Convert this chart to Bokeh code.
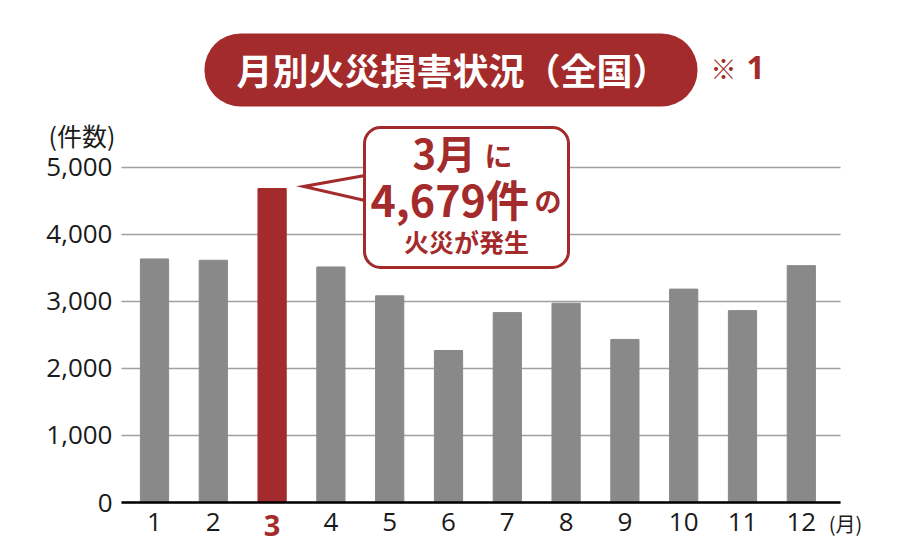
from bokeh.plotting import figure
from bokeh.models import (Range1d, FixedTicker, NumeralTickFormatter, Label,
                          BoxAnnotation, ColumnDataSource, LinearAxis)
from bokeh.embed import file_html
from bokeh.resources import INLINE

# ---------------- data ----------------
months = list(range(1, 13))
month_labels = [str(m) for m in months]
fires = [3630, 3610, 4679, 3510, 3080, 2265, 2830, 2970, 2430, 3180, 2860, 3530]
highlight_month = 3
y_ticks = [0, 1000, 2000, 3000, 4000, 5000]

title_text = "月別火災損害状況（全国）"
note_mark = "※"
note_num = "1"
y_unit_text = "(件数)"
x_unit_text = "(月)"
callout_big1 = "3月"
callout_small1 = "に"
callout_big2 = "4,679件"
callout_small2 = "の"
callout_line3 = "火災が発生"

RED = "#a32b2b"
GRAY = "#898989"
TXT = "#1a1a1a"
JP = "Noto Sans CJK JP"
LAT = "Open Sans"

# ---------------- layout (px, page coordinates) ----------------
W, H = 900, 548
PLOT_L, PLOT_R = 121, 840      # extent of grid lines / axis line
ZERO_Y = 502                   # pixel row of value 0
CAT_PX = 58.8                  # pixels per month
FIRST_CENTER = 154             # pixel column of month 1
PX_PER_VAL = 67.1 / 1000.0     # pixels per fire

x0 = 1 - FIRST_CENTER / CAT_PX
x1 = x0 + W / CAT_PX
y0 = -(H - ZERO_Y) / PX_PER_VAL
y1 = ZERO_Y / PX_PER_VAL


def X(px):
    return x0 + px / CAT_PX


def Y(py):
    return (ZERO_Y - py) / PX_PER_VAL


src = ColumnDataSource(dict(
    month=months,
    fires=fires,
    color=[RED if m == highlight_month else GRAY for m in months],
))

p = figure(width=W, height=H, x_range=Range1d(x0, x1), y_range=Range1d(y0, y1),
           output_backend="svg", toolbar_location=None, min_border=0)
p.outline_line_color = None
p.background_fill_color = "white"
p.border_fill_color = "white"

p.vbar(x="month", top="fires", bottom=0, width=0.48, color="color", source=src)

# grid
p.xgrid.visible = False
g = p.ygrid[0]
g.ticker = FixedTicker(ticks=y_ticks)
g.grid_line_color = "#a0a0a0"
g.grid_line_width = 1.4
g.cross_bounds = (X(PLOT_L), X(PLOT_R))

# y axis
ya = p.yaxis[0]
ya.fixed_location = X(PLOT_L)
ya.ticker = FixedTicker(ticks=y_ticks)
ya.formatter = NumeralTickFormatter(format="0,0")
ya.axis_line_color = None
ya.major_tick_line_color = None
ya.minor_tick_line_color = None
ya.major_label_text_font = LAT
ya.major_label_text_font_size = "26px"
ya.major_label_text_color = TXT
ya.major_label_standoff = 3

# x axis
xa = p.xaxis[0]
xa.fixed_location = 0
xa.ticker = FixedTicker(ticks=months)
xa.bounds = (X(PLOT_L), X(PLOT_R))
xa.major_label_overrides = {m: ("" if m == highlight_month else lab)
                            for m, lab in zip(months, month_labels)}
xa.axis_line_color = "black"
xa.axis_line_width = 2.5
xa.major_tick_line_color = None
xa.minor_tick_line_color = None
xa.major_label_text_font = LAT
xa.major_label_text_font_size = "26px"
xa.major_label_text_color = TXT
xa.major_label_standoff = 4

# highlighted month label (own axis, drawn at y=0)
hl = LinearAxis(fixed_location=0, ticker=FixedTicker(ticks=[highlight_month]),
                major_label_overrides={highlight_month: month_labels[highlight_month - 1]},
                axis_line_color=None, major_tick_line_color=None,
                minor_tick_line_color=None, major_label_standoff=6,
                major_label_text_font=LAT, major_label_text_font_style="bold",
                major_label_text_font_size="29px", major_label_text_color=RED)
p.add_layout(hl, "below")

# month unit label
x_unit_pos = 12.75
mu = LinearAxis(fixed_location=0, ticker=FixedTicker(ticks=[x_unit_pos]),
                major_label_overrides={x_unit_pos: x_unit_text},
                axis_line_color=None, major_tick_line_color=None,
                minor_tick_line_color=None, major_tick_out=0,
                major_label_standoff=6,
                major_label_text_font=JP, major_label_text_font_size="20px",
                major_label_text_color=TXT)
p.add_layout(mu, "below")

# count unit label
y_unit_pos = 5470
cu = LinearAxis(fixed_location=X(PLOT_L), ticker=FixedTicker(ticks=[y_unit_pos]),
                major_label_overrides={y_unit_pos: y_unit_text},
                axis_line_color=None, major_tick_line_color=None,
                minor_tick_line_color=None, major_label_standoff=0,
                major_label_text_font=JP, major_label_text_font_size="25px",
                major_label_text_color=TXT)
p.add_layout(cu, "left")

# title pill
p.add_layout(BoxAnnotation(left=X(204), right=X(697), top=Y(33), bottom=Y(106),
                           fill_color=RED, fill_alpha=1.0, line_color=None,
                           border_radius=36))
p.add_layout(Label(x=X(452), y=Y(68), text=title_text, text_align="center",
                   text_baseline="middle", text_font=JP, text_font_style="bold",
                   text_font_size="36px", text_color="white"))
p.add_layout(Label(x=X(723), y=Y(67), text=note_mark, text_align="center",
                   text_baseline="middle", text_font=JP,
                   text_font_size="26px", text_color=RED))
p.add_layout(Label(x=X(746), y=Y(67), text=note_num, text_align="left",
                   text_baseline="middle", text_font=LAT, text_font_style="bold",
                   text_font_size="32px", text_color=RED))

# callout
p.add_layout(BoxAnnotation(left=X(364), right=X(568), top=Y(127), bottom=Y(267),
                           fill_color="white", fill_alpha=1.0, line_color=RED,
                           line_alpha=1.0, line_width=3, border_radius=16,
                           level="overlay"))
p.patch(x=[X(366), X(303), X(366)], y=[Y(175), Y(186), Y(200)],
        fill_color="white", line_color=None, level="overlay")
p.line(x=[X(364.5), X(303), X(364.5)], y=[Y(175), Y(186), Y(200)],
       line_color=RED, line_width=3, line_join="miter", level="overlay")

p.add_layout(Label(x=X(412), y=Y(151), text=callout_big1, text_align="left",
                   text_baseline="middle", text_font=JP, text_font_style="bold",
                   text_font_size="40px", text_color=RED, level="overlay"))
p.add_layout(Label(x=X(484), y=Y(154), text=callout_small1, text_align="left",
                   text_baseline="middle", text_font=JP, text_font_style="bold",
                   text_font_size="28px", text_color=RED, level="overlay"))
p.add_layout(Label(x=X(370), y=Y(197), text=callout_big2, text_align="left",
                   text_baseline="middle", text_font=JP, text_font_style="bold",
                   text_font_size="43px", text_color=RED, level="overlay"))
p.add_layout(Label(x=X(534), y=Y(200), text=callout_small2, text_align="left",
                   text_baseline="middle", text_font=JP, text_font_style="bold",
                   text_font_size="27px", text_color=RED, level="overlay"))
p.add_layout(Label(x=X(466), y=Y(240), text=callout_line3, text_align="center",
                   text_baseline="middle", text_font=JP, text_font_style="bold",
                   text_font_size="25px", text_color=RED, level="overlay"))

open("out.html", "w").write(file_html(p, INLINE))
